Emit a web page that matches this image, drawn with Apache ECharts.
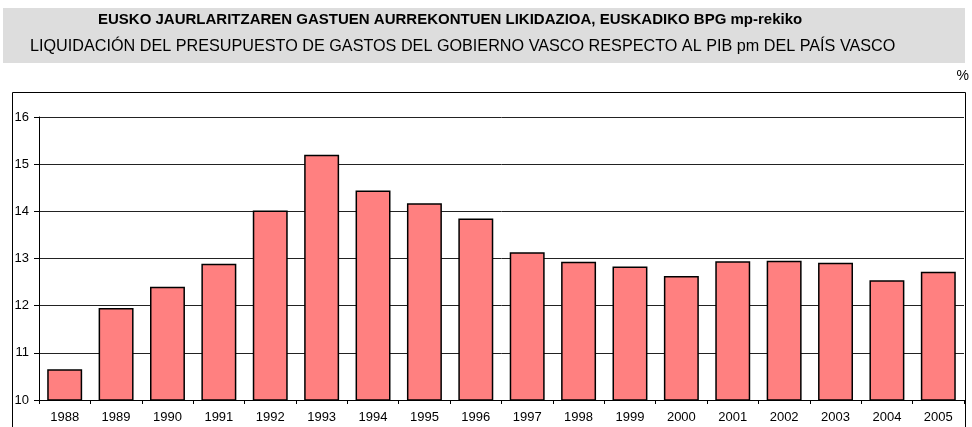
<!DOCTYPE html>
<head>
    <meta charset="utf-8">
    <title>ECharts</title>
</head>
<body style="margin:0">

<div id="main" style="height:427px;width:972px"></div>
<script src="https://cdn.jsdelivr.net/npm/echarts@6/dist/echarts.min.js"></script>

<script type="text/javascript">
// datos
var years = ['1988','1989','1990','1991','1992','1993','1994','1995','1996',
             '1997','1998','1999','2000','2001','2002','2003','2004','2005'];
var gastoPib = [10.65, 11.95, 12.40, 12.89, 14.02, 15.20, 14.44, 14.17, 13.85,
                13.13, 12.93, 12.83, 12.63, 12.94, 12.95, 12.91, 12.54, 12.72];
var yTicks = [10, 11, 12, 13, 14, 15, 16];

var titulo1 = 'EUSKO JAURLARITZAREN GASTUEN AURREKONTUEN LIKIDAZIOA, EUSKADIKO BPG mp-rekiko';
var titulo2 = 'LIQUIDACIÓN DEL PRESUPUESTO DE GASTOS DEL GOBIERNO VASCO RESPECTO AL PIB pm DEL PAÍS VASCO';

var myChart = echarts.init(document.getElementById('main'));
var option = {
    backgroundColor: '#fff',
    animation: false,
    textStyle: { fontFamily: 'Liberation Sans, Arial, sans-serif' },
    graphic: [
        { type: 'rect', shape: { x: 3, y: 8, width: 962, height: 55 }, style: { fill: '#dddddd' }, z: -10 },
        { type: 'rect', shape: { x: 12.5, y: 92.5, width: 953, height: 360 },
          style: { fill: 'none', stroke: '#000', lineWidth: 1 }, z: -5 },
        { type: 'text', left: 98, top: 12,
          style: { text: titulo1, font: 'bold 15px Liberation Sans', fill: '#000' } },
        { type: 'text', left: 30, top: 39,
          style: { text: titulo2, font: '16.2px Liberation Sans', fill: '#000' } },
        { type: 'text', right: 3, top: 69,
          style: { text: '%', font: '14px Liberation Sans', fill: '#000' } }
    ],
    grid: { left: 39, right: 8, top: 117, bottom: 27 },
    xAxis: {
        type: 'category',
        data: years,
        axisLine: { lineStyle: { color: '#000', width: 1 } },
        axisTick: { show: true, length: 4, lineStyle: { color: '#000' } },
        axisLabel: { color: '#000', fontSize: 13, margin: 11 }
    },
    yAxis: {
        type: 'value',
        min: yTicks[0],
        max: yTicks[yTicks.length - 1],
        interval: 1,
        axisLine: { show: true, lineStyle: { color: '#000', width: 1 } },
        axisTick: { show: true, length: 5, lineStyle: { color: '#000' } },
        axisLabel: { color: '#000', fontSize: 13, margin: 10 },
        splitLine: { lineStyle: { color: '#222', width: 1 } }
    },
    series: [{
        type: 'bar',
        data: gastoPib,
        barCategoryGap: '32%',
        itemStyle: { color: '#ff8080', borderColor: '#000', borderWidth: 1.5 }
    }]
};
myChart.setOption(option);
</script>
</body>
